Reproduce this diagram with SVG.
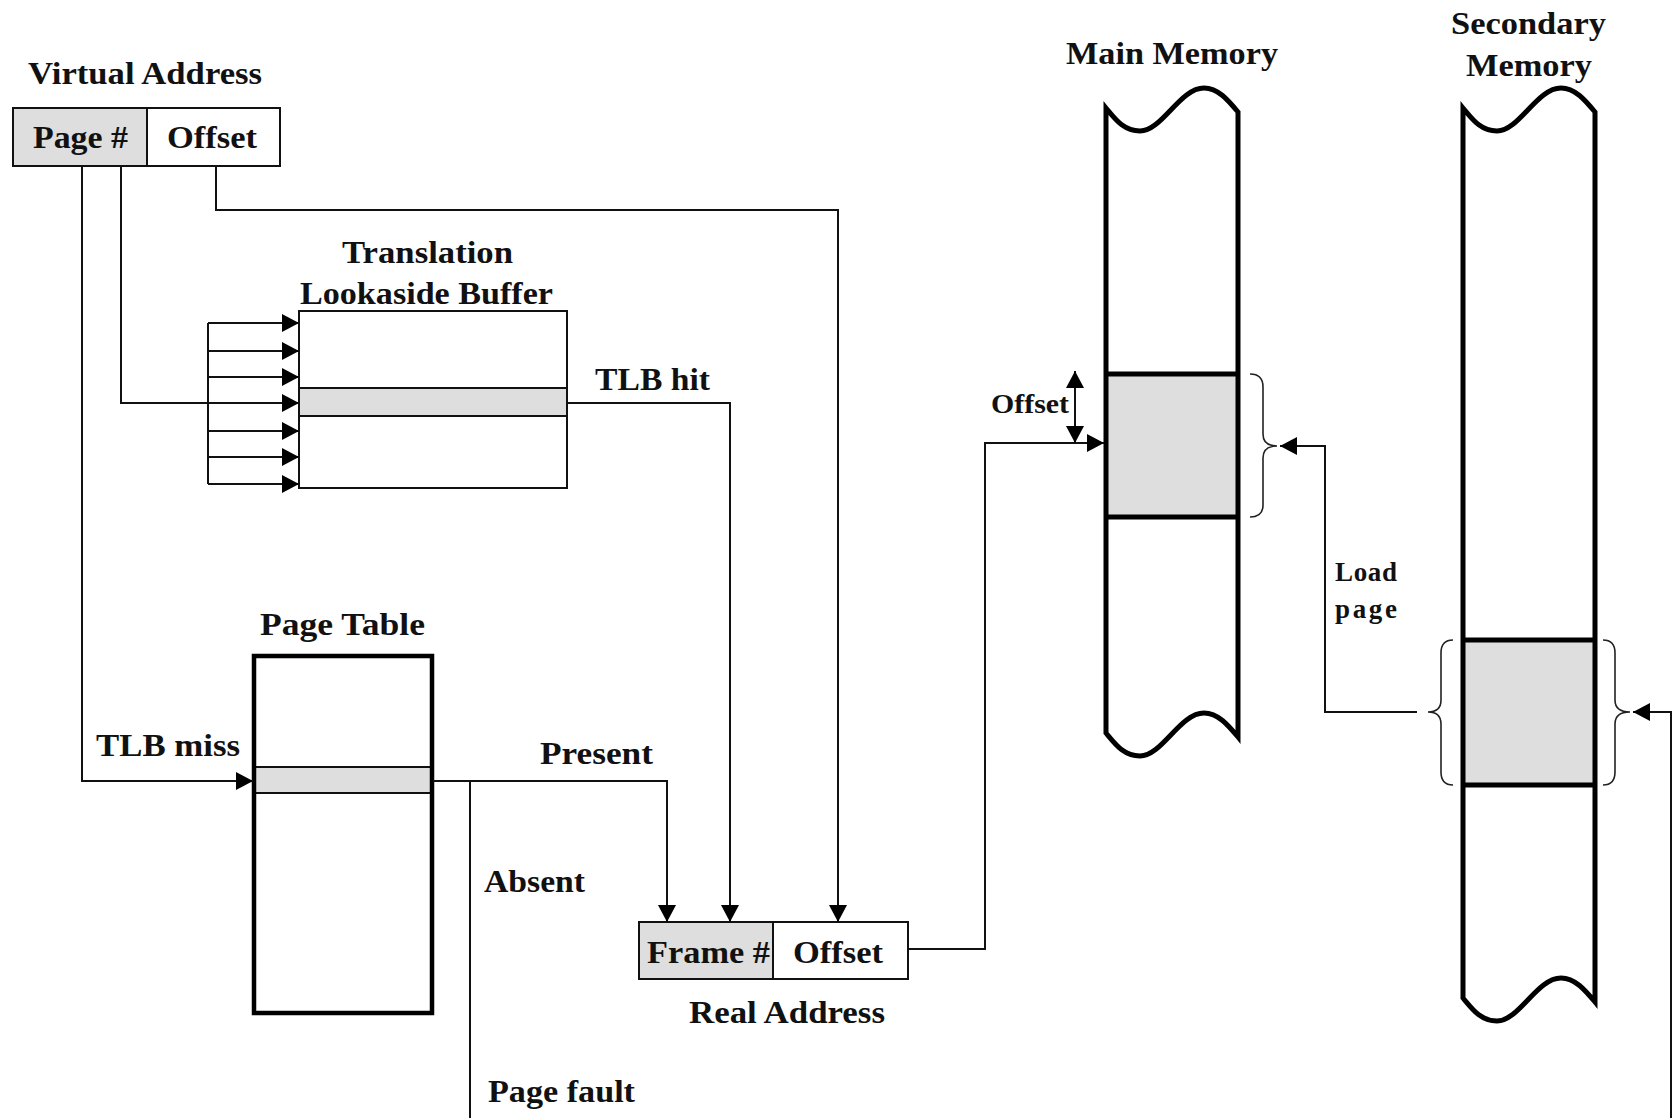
<svg xmlns="http://www.w3.org/2000/svg" width="1675" height="1118" viewBox="0 0 1675 1118">
<style>
text{font-family:"Liberation Serif","Times New Roman",serif;font-weight:bold;fill:#111;}
.lbl{font-size:31px;}
.sm{font-size:27px;}
.ln{fill:none;stroke:#111;stroke-width:2;}
.thick{fill:none;stroke:#000;stroke-width:5;}
.br{fill:none;stroke:#222;stroke-width:1.6;}
.gray{fill:#dedede;}
</style>
<defs>
<marker id="ar" viewBox="0 0 17 18" refX="17" refY="9" markerWidth="17" markerHeight="18" markerUnits="userSpaceOnUse" orient="auto">
<path d="M0,0 L17,9 L0,18 Z" fill="#000"/>
</marker>
<marker id="ars" viewBox="0 0 17 18" refX="17" refY="9" markerWidth="17" markerHeight="18" markerUnits="userSpaceOnUse" orient="auto-start-reverse">
<path d="M0,0 L17,9 L0,18 Z" fill="#000"/>
</marker>
</defs>
<rect width="1675" height="1118" fill="#fff"/>

<g id="virtual-address">
<text class="lbl" x="28" y="84" textLength="234" lengthAdjust="spacingAndGlyphs">Virtual Address</text>
<rect class="gray" x="13" y="108" width="134" height="58"/>
<rect class="ln" x="13" y="108" width="267" height="58"/>
<line class="ln" x1="147" y1="108" x2="147" y2="166"/>
<text class="lbl" x="33" y="148" textLength="95" lengthAdjust="spacingAndGlyphs">Page #</text>
<text class="lbl" x="167" y="148" textLength="90" lengthAdjust="spacingAndGlyphs">Offset</text>
</g>

<g id="tlb">
<text class="lbl" x="342" y="263" textLength="171" lengthAdjust="spacingAndGlyphs">Translation</text>
<text class="lbl" x="300" y="304" textLength="253" lengthAdjust="spacingAndGlyphs">Lookaside Buffer</text>
<rect fill="#fff" x="299" y="311" width="268" height="177"/>
<rect class="gray" x="299" y="388" width="268" height="28"/>
<rect class="ln" x="299" y="311" width="268" height="177"/>
<line class="ln" x1="299" y1="388" x2="567" y2="388"/>
<line class="ln" x1="299" y1="416" x2="567" y2="416"/>
</g>

<g id="page-table">
<text class="lbl" x="260" y="635" textLength="165" lengthAdjust="spacingAndGlyphs">Page Table</text>
<rect class="gray" x="254" y="767" width="179" height="26"/>
<line class="ln" x1="254" y1="767" x2="433" y2="767"/>
<line class="ln" x1="254" y1="793" x2="433" y2="793"/>
<rect fill="none" stroke="#000" stroke-width="4.5" x="254" y="656" width="178" height="357"/>
</g>

<g id="real-address">
<rect class="gray" x="639" y="922" width="134" height="57"/>
<rect class="ln" x="639" y="922" width="269" height="57"/>
<line class="ln" x1="773" y1="922" x2="773" y2="979"/>
<text class="lbl" x="647" y="963" textLength="123" lengthAdjust="spacingAndGlyphs">Frame #</text>
<text class="lbl" x="793" y="963" textLength="90" lengthAdjust="spacingAndGlyphs">Offset</text>
<text class="lbl" x="689" y="1023" textLength="196" lengthAdjust="spacingAndGlyphs">Real Address</text>
</g>

<g id="main-memory">
<text class="lbl" x="1066" y="64" textLength="212" lengthAdjust="spacingAndGlyphs">Main Memory</text>
<rect class="gray" x="1106" y="374" width="133" height="143"/>
<path class="thick" d="M1106,108 C1116,120 1124,131 1140,131 C1162,131 1180,88 1204,88 C1218,88 1228,100 1238,112 L1238,737 C1228,725 1218,713 1204,713 C1180,713 1162,756 1140,756 C1124,756 1116,745 1106,733 Z"/>
<line class="thick" x1="1106" y1="374" x2="1239" y2="374"/>
<line class="thick" x1="1106" y1="517" x2="1239" y2="517"/>
<path class="br" d="M1250,374 Q1263,374 1263,387 L1263,434 Q1263,446 1277,446 Q1263,446 1263,458 L1263,505 Q1263,517 1250,517"/>
<text class="sm" x="991" y="413" textLength="78" lengthAdjust="spacingAndGlyphs">Offset</text>
</g>

<g id="secondary-memory">
<text class="lbl" x="1451" y="34" textLength="155" lengthAdjust="spacingAndGlyphs">Secondary</text>
<text class="lbl" x="1466" y="76" textLength="126" lengthAdjust="spacingAndGlyphs">Memory</text>
<rect class="gray" x="1463" y="640" width="132" height="145"/>
<path class="thick" d="M1463,108 C1473,120 1481,131 1497,131 C1519,131 1537,88 1561,88 C1575,88 1585,100 1595,112 L1595,1002 C1585,990 1575,978 1561,978 C1537,978 1519,1021 1497,1021 C1481,1021 1473,1010 1463,998 Z"/>
<line class="thick" x1="1463" y1="640" x2="1595" y2="640"/>
<line class="thick" x1="1463" y1="785" x2="1595" y2="785"/>
<path class="br" d="M1453,640 Q1441,640 1441,653 L1441,700 Q1441,712 1428,712 Q1441,712 1441,724 L1441,772 Q1441,785 1453,785"/>
<path class="br" d="M1603,640 Q1615,640 1615,653 L1615,700 Q1615,712 1630,712 Q1615,712 1615,724 L1615,772 Q1615,785 1603,785"/>
</g>

<g id="connectors">
<path class="ln" d="M82,166 V781 H253" marker-end="url(#ar)"/>
<path class="ln" d="M121,166 V403 H299" marker-end="url(#ar)"/>
<path class="ln" d="M216,166 V210 H838 V922" marker-end="url(#ar)"/>
<line class="ln" x1="208" y1="323" x2="208" y2="484"/>
<line class="ln" x1="208" y1="323" x2="299" y2="323" marker-end="url(#ar)"/>
<line class="ln" x1="208" y1="351" x2="299" y2="351" marker-end="url(#ar)"/>
<line class="ln" x1="208" y1="377" x2="299" y2="377" marker-end="url(#ar)"/>
<line class="ln" x1="208" y1="431" x2="299" y2="431" marker-end="url(#ar)"/>
<line class="ln" x1="208" y1="457" x2="299" y2="457" marker-end="url(#ar)"/>
<line class="ln" x1="208" y1="484" x2="299" y2="484" marker-end="url(#ar)"/>
<path class="ln" d="M567,403 H730 V922" marker-end="url(#ar)"/>
<path class="ln" d="M433,781 H667 V922" marker-end="url(#ar)"/>
<line class="ln" x1="470" y1="781" x2="470" y2="1118"/>
<path class="ln" d="M908,949 H985 V443 H1104" marker-end="url(#ar)"/>
<line class="ln" x1="1075" y1="371" x2="1075" y2="443" marker-start="url(#ars)" marker-end="url(#ar)"/>
<path class="ln" d="M1417,712 H1325 V446 H1280" marker-end="url(#ar)"/>
<path class="ln" d="M1671,1118 V712 H1633" marker-end="url(#ar)"/>
</g>

<g id="labels">
<text class="lbl" x="595" y="390" textLength="115" lengthAdjust="spacingAndGlyphs">TLB hit</text>
<text class="lbl" x="96" y="756" textLength="144" lengthAdjust="spacingAndGlyphs">TLB miss</text>
<text class="lbl" x="540" y="764" textLength="113" lengthAdjust="spacingAndGlyphs">Present</text>
<text class="lbl" x="484" y="892" textLength="101" lengthAdjust="spacingAndGlyphs">Absent</text>
<text class="lbl" x="488" y="1102" textLength="147" lengthAdjust="spacingAndGlyphs">Page fault</text>
<text class="sm" x="1335" y="581" textLength="62" lengthAdjust="spacing" font-size="24">Load</text>
<text class="sm" x="1335" y="618" textLength="62" lengthAdjust="spacing" font-size="24">page</text>
</g>
</svg>
